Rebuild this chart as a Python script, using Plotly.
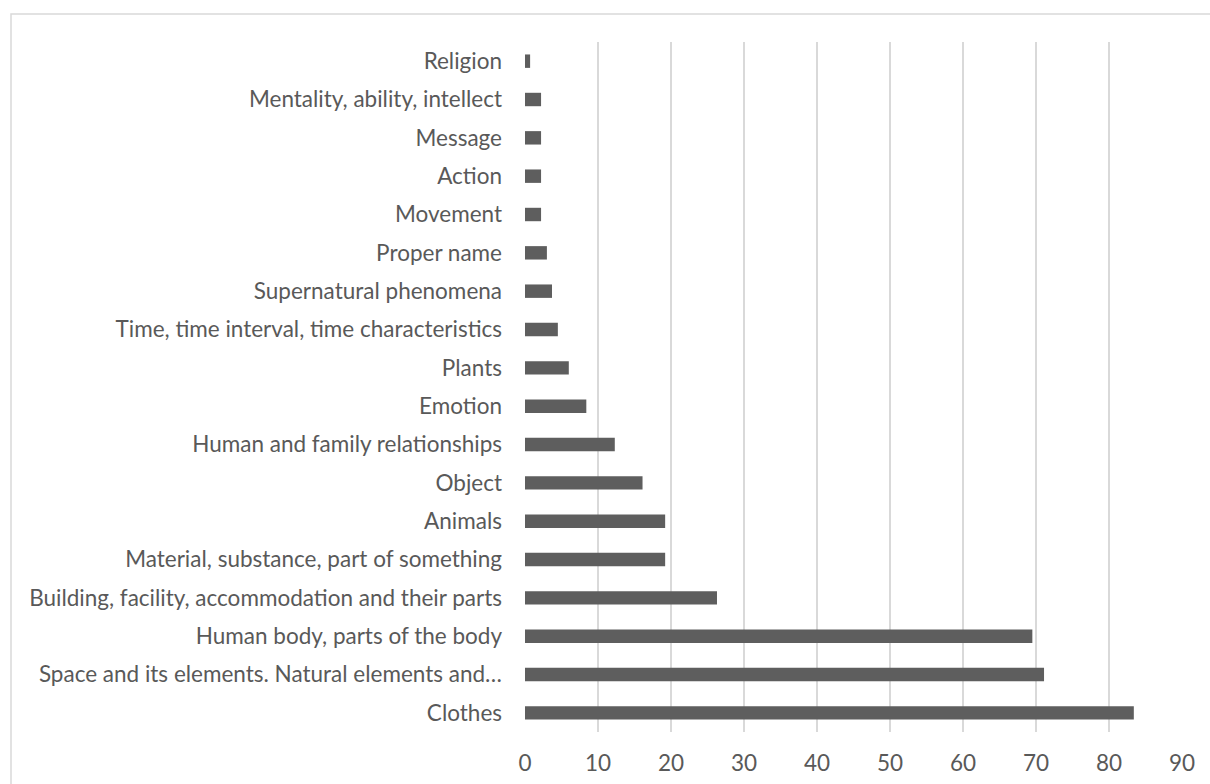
import plotly.graph_objects as go

categories = [
    "Clothes",
    "Space and its elements. Natural elements and…",
    "Human body, parts of the body",
    "Building, facility, accommodation and their parts",
    "Material, substance, part of something",
    "Animals",
    "Object",
    "Human and family relationships",
    "Emotion",
    "Plants",
    "Time, time interval, time characteristics",
    "Supernatural phenomena",
    "Proper name",
    "Movement",
    "Action",
    "Message",
    "Mentality, ability, intellect",
    "Religion",
]
values = [83.4, 71.1, 69.5, 26.3, 19.2, 19.2, 16.1, 12.3, 8.4, 6.0, 4.5, 3.7, 3.0, 2.2, 2.2, 2.2, 2.2, 0.7]
x_ticks = [0, 10, 20, 30, 40, 50, 60, 70, 80, 90]

FONT = "Lato"
TXT = "#595959"
FS = 22.5

PW = 1210 - 525 - 28
PH = 784 - 42 - 52

fig = go.Figure(
    go.Bar(
        x=values,
        y=categories,
        orientation="h",
        marker=dict(color="#5e5e5e", line=dict(width=0)),
    )
)

fig.update_layout(
    width=1210,
    height=784,
    margin=dict(l=525, r=28, t=42, b=52),
    paper_bgcolor="white",
    plot_bgcolor="white",
    bargap=0.65,
    showlegend=False,
    font=dict(family=FONT, size=FS, color=TXT),
    shapes=[
        dict(
            type="rect", xref="paper", yref="paper",
            x0=-514 / PW,
            x1=1 + 40 / PW,
            y0=-60 / PH,
            y1=1 + 28 / PH,
            line=dict(color="#d9d9d9", width=1.5),
            fillcolor="rgba(0,0,0,0)",
            layer="below",
        )
    ],
)

fig.update_xaxes(
    range=[0, 90],
    tickvals=x_ticks,
    showgrid=True,
    gridcolor="#d9d9d9",
    gridwidth=1.5,
    zeroline=False,
    showline=False,
    ticks="",
    automargin=False,
    ticklabelstandoff=15,
    tickfont=dict(family=FONT, size=FS, color=TXT),
)
fig.update_yaxes(
    showgrid=False,
    zeroline=False,
    showline=False,
    ticks="",
    automargin=False,
    ticklabelstandoff=22,
    tickfont=dict(family=FONT, size=FS, color=TXT),
)

fig.write_html("out.html")
